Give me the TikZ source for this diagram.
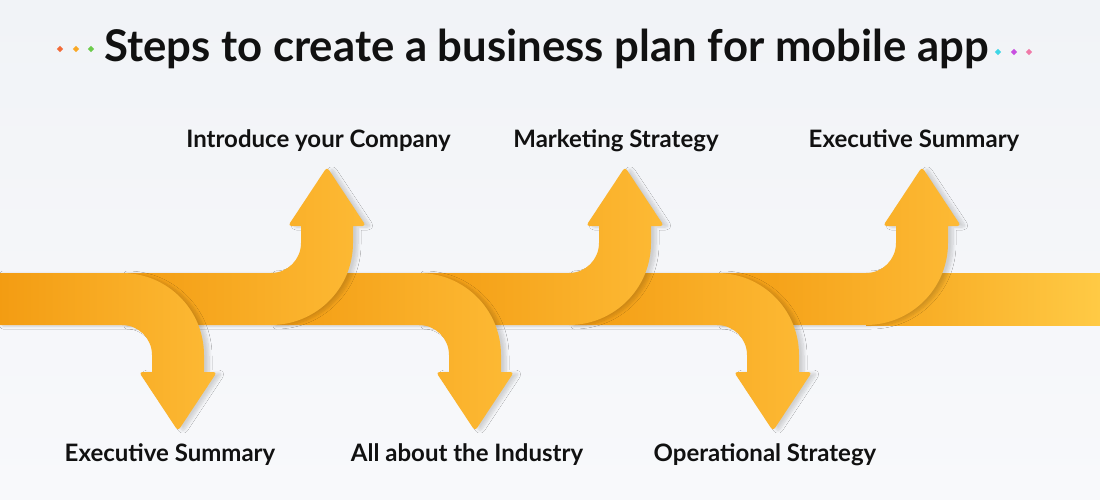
\documentclass[tikz,border=0pt]{standalone}
\usepackage{fontspec}
\setmainfont{Lato}
\usetikzlibrary{shadows.blur}
\definecolor{bgA}{HTML}{F1F3F7}
\definecolor{bgB}{HTML}{F8F9FB}
\definecolor{bandL}{HTML}{F39C12}
\definecolor{arrowC}{HTML}{FDBA35}
\definecolor{bandEnd}{HTML}{FFCA45}
\definecolor{txt}{HTML}{111111}
\definecolor{dA}{HTML}{F26B38}
\definecolor{dB}{HTML}{F9A825}
\definecolor{dC}{HTML}{6CCB4B}
\definecolor{dD}{HTML}{3ED6E6}
\definecolor{dE}{HTML}{C84FE0}
\definecolor{dF}{HTML}{F07AA8}
\tikzset{
  strand/.style={left color=bandL, right color=arrowC, draw=none,
    blur shadow={shadow xshift=5pt, shadow yshift=-1pt, shadow blur radius=3pt, shadow blur steps=8, shadow opacity=16}},
  label/.style={font=\bfseries\fontsize{24}{26}\selectfont, text=txt, inner sep=0pt, anchor=base},
  dot/.style={inner sep=0pt, minimum size=4.5pt, rotate=45, fill=#1}
}
\newcommand\UpStrand[2]{%
  \path[strand] (#2,273) -- ({#1-56},273) arc[start angle=90,end angle=0,radius=30]
    -- ({#1-26},226) [rounded corners=3.5pt] -- ({#1-39},226) -- (#1,167) -- ({#1+39},226) [sharp corners]
    -- ({#1+26},226) -- ({#1+26},243) arc[start angle=0,end angle=90,radius=82] -- (#2,325) -- cycle;}
\newcommand\DownStrand[2]{%
  \path[strand] (#2,325) -- ({#1-56},325) arc[start angle=-90,end angle=0,radius=30]
    -- ({#1-26},372) [rounded corners=3.5pt] -- ({#1-39},372) -- (#1,431) -- ({#1+39},372) [sharp corners]
    -- ({#1+26},372) -- ({#1+26},355) arc[start angle=0,end angle=-90,radius=82] -- (#2,273) -- cycle;}
\begin{document}
\begin{tikzpicture}[x=1pt,y=-1pt]
\useasboundingbox (0,0) rectangle (1100,500);
\fill[top color=bgA, bottom color=bgB] (0,0) rectangle (1100,500);
% title
\node[font=\bfseries\fontsize{43.7}{46}\selectfont, text=txt, inner sep=0pt, anchor=base west] (title) at (104,62) {Steps to create a business plan for mobile app};
\node[dot=dA] (d1) at (60,49) {};
\node[dot=dB] (d2) at (76,49) {};
\node[dot=dC] (d3) at (91,49) {};
\node[dot=dD] (d4) at (998,52) {};
\node[dot=dE] (d5) at (1014,52) {};
\node[dot=dF] (d6) at (1029,52) {};
% band end
\fill[left color=bandL!70!arrowC, right color=bandEnd] (866,273) rectangle (1100,325);
% strands, right to left
\UpStrand{922}{717}
\DownStrand{773}{569}
\UpStrand{625}{419}
\DownStrand{475}{271}
\UpStrand{327}{122}
\DownStrand{178}{-2}
% labels
\node[label] (l1) at (318.5,148) {Introduce your Company};
\node[label] (l2) at (616,148) {Marketing Strategy};
\node[label] (l3) at (914,148) {Executive Summary};
\node[label] (l4) at (170,461) {Executive Summary};
\node[label] (l5) at (467,461) {All about the Industry};
\node[label] (l6) at (765,461) {Operational Strategy};
\end{tikzpicture}
\end{document}
